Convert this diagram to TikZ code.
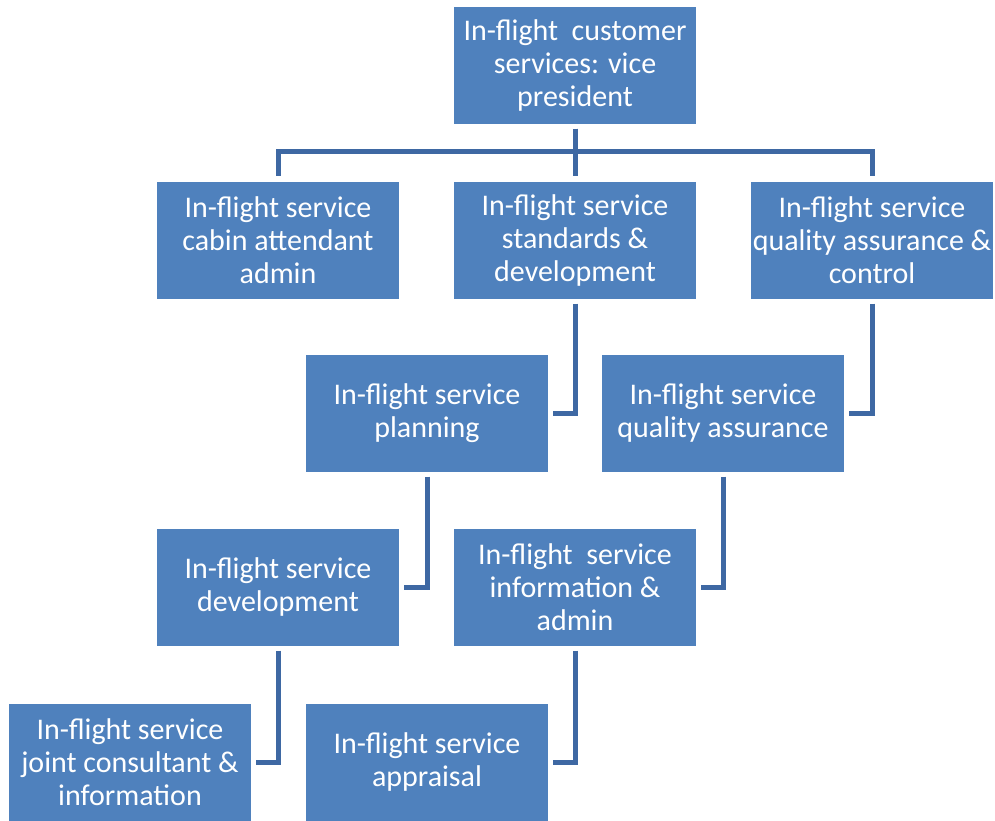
\documentclass[tikz,border=0pt]{standalone}
\usepackage{fontspec}
\setmainfont{Carlito}
\definecolor{boxblue}{RGB}{79,129,189}
\definecolor{lineblue}{RGB}{62,104,163}

\begin{document}
\begin{tikzpicture}[x=1pt,y=-1pt,
every node/.style={rectangle,fill=boxblue,text=white,minimum width=242pt,
minimum height=117pt,align=center,inner sep=0pt,
font=\fontsize{30}{33}\selectfont},
link/.style={draw=lineblue,line width=5pt,shorten <=5pt,shorten >=5pt}]
\useasboundingbox (0,0) rectangle (995,820);

\node (vp) at (575, 65) {In-flight\ \ customer\\services: vice\\president};
\node (cabin) at (278, 240) {In-flight service\\cabin attendant\\admin};
\node (std) at (575, 240) {In-flight service\\standards \&\\development};
\node (qac) at (872, 240) {In-flight service\\quality assurance \&\\control};
\node (plan) at (427, 413) {In-flight service\\planning};
\node (qa) at (723, 413) {In-flight service\\quality assurance};
\node (dev) at (278, 587) {In-flight service\\development};
\node (info) at (575, 587) {In-flight\ \ service\\information \&\\admin};
\node (joint) at (130, 762) {In-flight service\\joint consultant \&\\information};
\node (appr) at (427, 762) {In-flight service\\appraisal};

% top level
\path[link]
(vp.south) edge (std.north)
(vp.south) edge[shorten >=0pt] ++(0,28);
\draw[link,shorten <=0pt] ([yshift=-28]vp.south) -| (cabin.north);
\draw[link,shorten <=0pt] ([yshift=-28]vp.south) -| (qac.north);

% elbows
\draw[link] (std.south) |- (plan.east);
\draw[link] (qac.south) |- (qa.east);
\draw[link] (plan.south) |- (dev.east);
\draw[link] (qa.south) |- (info.east);
\draw[link] (dev.south) |- (joint.east);
\draw[link] (info.south) |- (appr.east);
\end{tikzpicture}
\end{document}
